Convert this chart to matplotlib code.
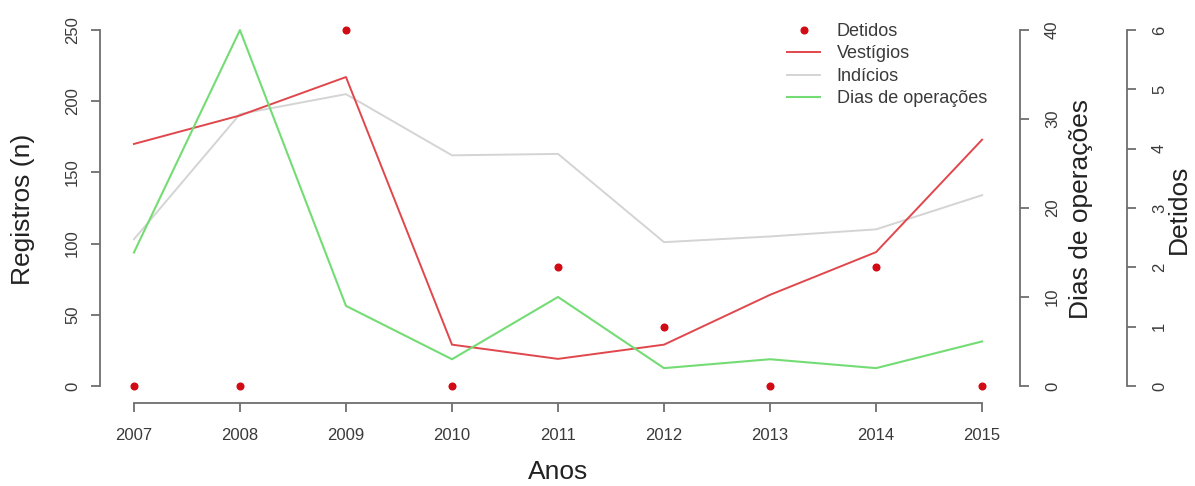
import matplotlib
matplotlib.use("Agg")
import matplotlib.pyplot as plt
from matplotlib.lines import Line2D

plt.rcParams['font.family'] = ['Liberation Sans', 'DejaVu Sans']

anos = [2007, 2008, 2009, 2010, 2011, 2012, 2013, 2014, 2015]
vestigios = [170, 190, 217, 29, 19, 29, 64, 94, 173]
indicios = [103, 191, 205, 162, 163, 101, 105, 110, 134]
dias_operacoes = [15, 40, 9, 3, 10, 2, 3, 2, 5]
detidos = [0, 0, 6, 0, 2, 1, 0, 2, 0]

registros_ticks = [0, 50, 100, 150, 200, 250]
dias_ticks = [0, 10, 20, 30, 40]
detidos_ticks = [0, 1, 2, 3, 4, 5, 6]

c_red = '#e0474c'
c_grey = '#d4d4d4'
c_green = '#74dc74'
c_dot = '#d10a14'
c_axis = '#6e6e6e'
c_text = '#3a3a3a'
c_title = '#222222'

W, H = 1195, 486
fig = plt.figure(figsize=(W / 100, H / 100), dpi=100)
left, right = 100 / W, 1016 / W
bottom, top = (H - 401.3) / H, (H - 14.7) / H
ax = fig.add_axes([left, bottom, right - left, top - bottom])

TICK_FS = 12
LABEL_FS = 19


def px(p):
    return p * 0.72


def base_style(a):
    for s in a.spines.values():
        s.set_visible(False)
    a.patch.set_visible(False)
    a.tick_params(axis='both', colors=c_axis, labelcolor=c_text,
                  length=px(9), width=1.3, labelsize=TICK_FS)


def show_spine(a, side, lo, hi, outward=0):
    sp = a.spines[side]
    sp.set_visible(True)
    sp.set_bounds(lo, hi)
    sp.set_color(c_axis)
    sp.set_linewidth(1.3)
    if outward:
        sp.set_position(('outward', px(outward)))


def rotate_ylabels(a):
    for lab in a.get_yticklabels():
        lab.set_rotation(90)
        lab.set_va('center')


# main axis: Vestígios and Indícios
ax.plot(anos, indicios, color=c_grey, lw=1.4, zorder=2)
ax.plot(anos, vestigios, color=c_red, lw=1.4, zorder=3)
ax.set_xlim(2007 - 0.32, 2015 + 0.32)
ax.set_ylim(-10.8, 260.8)
base_style(ax)
show_spine(ax, 'left', 0, 250)
show_spine(ax, 'bottom', 2007, 2015, outward=2)
ax.set_xticks(anos)
ax.set_yticks(registros_ticks)
ax.tick_params(axis='x', pad=px(16))
ax.tick_params(axis='y', pad=px(11))
rotate_ylabels(ax)

# second axis: Dias de operações
ax2 = ax.twinx()
ax2.plot(anos, dias_operacoes, color=c_green, lw=1.5, zorder=2)
ax2.set_ylim(-40 * 10.8 / 250, 40 + 40 * 10.8 / 250)
base_style(ax2)
show_spine(ax2, 'right', 0, 40, outward=4)
ax2.set_yticks(dias_ticks)
ax2.tick_params(axis='y', pad=px(16))
rotate_ylabels(ax2)

# third axis: Detidos
ax3 = ax.twinx()
ax3.plot(anos, detidos, 'o', color=c_dot, ms=4.8, mec=c_dot, zorder=4)
ax3.set_ylim(-6 * 10.8 / 250, 6 + 6 * 10.8 / 250)
base_style(ax3)
show_spine(ax3, 'right', 0, 6, outward=111)
ax3.set_yticks(detidos_ticks)
ax3.tick_params(axis='y', pad=px(16))
rotate_ylabels(ax3)

# axis titles
mid_y = 1 - 209 / H
fig.text(23 / W, mid_y, 'Registros (n)', rotation=90, ha='center', va='center',
         fontsize=LABEL_FS, color=c_title)
fig.text(1081 / W, mid_y, 'Dias de operações', rotation=90, ha='center',
         va='center', fontsize=LABEL_FS, color=c_title)
fig.text(1179 / W, mid_y, 'Detidos', rotation=90, ha='center', va='center',
         fontsize=LABEL_FS, color=c_title)
fig.text(558 / W, 1 - 472 / H, 'Anos', ha='center', va='center',
         fontsize=LABEL_FS, color=c_title)

handles = [
    Line2D([], [], ls='none', marker='o', color=c_dot, ms=4.8),
    Line2D([], [], color=c_red, lw=1.4),
    Line2D([], [], color=c_grey, lw=1.4),
    Line2D([], [], color=c_green, lw=1.5),
]
labels = ['Detidos', 'Vestígios', 'Indícios', 'Dias de operações']
leg = ax3.legend(handles, labels, loc='upper left',
                 bbox_to_anchor=(778 / W, (H - 14) / H),
                 bbox_transform=fig.transFigure, frameon=False,
                 fontsize=13, handlelength=1.85, handletextpad=0.9,
                 labelspacing=0.3, borderpad=0)
for t in leg.get_texts():
    t.set_color(c_text)

fig.savefig('out.png', dpi=100)
